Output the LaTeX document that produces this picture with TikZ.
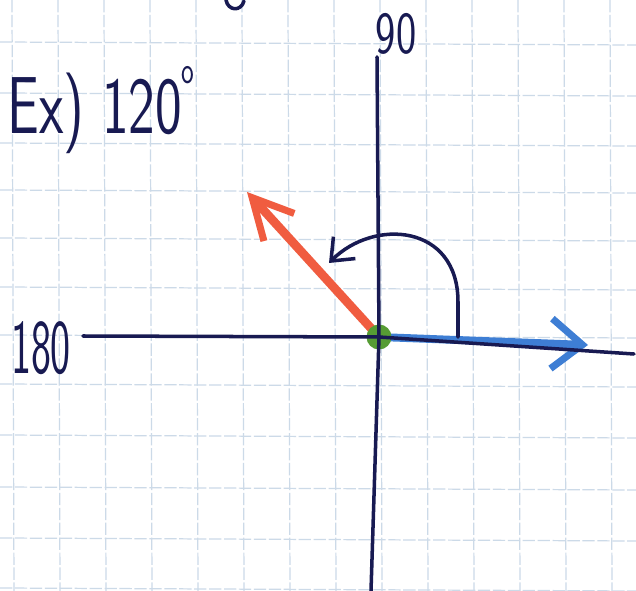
\documentclass[tikz,border=0pt]{standalone}
\usetikzlibrary{arrows.meta,positioning}
\definecolor{ink}{RGB}{24,26,82}
\definecolor{gridblue}{RGB}{204,218,232}
\definecolor{redpen}{RGB}{240,92,64}
\definecolor{bluepen}{RGB}{62,126,212}
\definecolor{greenpen}{RGB}{86,156,52}

\begin{document}
\begin{tikzpicture}[x=0.02cm, y=-0.02cm,
    gridln/.style={gridblue, line width=0.7pt, dash pattern=on 7pt off 1.5pt},
    axis/.style={ink, line width=2pt, line cap=round, line join=round},
    vec/.style={line width=5pt, line cap=round},
    dot/.style={circle, fill=greenpen, minimum size=0.5cm, inner sep=0pt},
    arcarr/.style={ink, line width=2pt, line cap=round, -{Straight Barb[length=0.38cm, width=0.62cm, line width=2pt]}},
    lbl/.style={ink, inner sep=0pt, transform shape, font=\sffamily}
]
\fill[white] (0,0) rectangle (636,591);
\useasboundingbox (0,0) rectangle (636,591);

% squared paper
\foreach \gx in {12,58,...,612}
  \draw[gridln] (\gx,0) -- (\gx+2,591);
\foreach \gy in {42,93,143,190,238,287,335,384,435,487,538,588}
  \draw[gridln] (0,\gy) -- (636,\gy+3);

% end points
\coordinate (o) at (379,337);
\coordinate (axW) at (83,336);
\coordinate (axE) at (634,354);
\coordinate (axN) at (377,57);
\coordinate (axS) at (371,591);
\coordinate (redtip) at (247,192);
\coordinate (bluetip) at (588,345);
\coordinate (arcstart) at (458,337);
\coordinate (arctip) at (329,263);

\draw[vec, redpen, -{Straight Barb[length=0.8cm, width=0.82cm, line width=4pt]}] (o) -- (redtip);
\draw[vec, bluepen, line width=4.5pt, -{Straight Barb[length=0.62cm, width=1cm, line width=4pt]}] (o) -- (bluetip);
\node[dot] (origin) at (o) {};

\draw[axis] (axW) -- (origin.center) -- (axE);
\draw[axis] (axN) -- (origin.center) -- (axS);

\draw[arcarr] (arcstart) -- ++(0,-35) .. controls +(0,-78) and +(45,-45) .. (arctip);

\node[lbl, font=\sffamily\fontsize{46}{48}\selectfont, xscale=0.7] (title) at (101,110) {Ex) 120\raisebox{0.62em}{\fontsize{22}{22}\selectfont o}};
\node[lbl, font=\sffamily\fontsize{34}{36}\selectfont, xscale=0.72] (lbl90) at (396,34) {90};
\node[lbl, font=\sffamily\fontsize{44}{46}\selectfont, xscale=0.55] (lbl180) at (41,348) {180};

\draw[axis] (226,0) .. controls (228,11) and (241,12) .. (244,1);
\end{tikzpicture}
\end{document}
